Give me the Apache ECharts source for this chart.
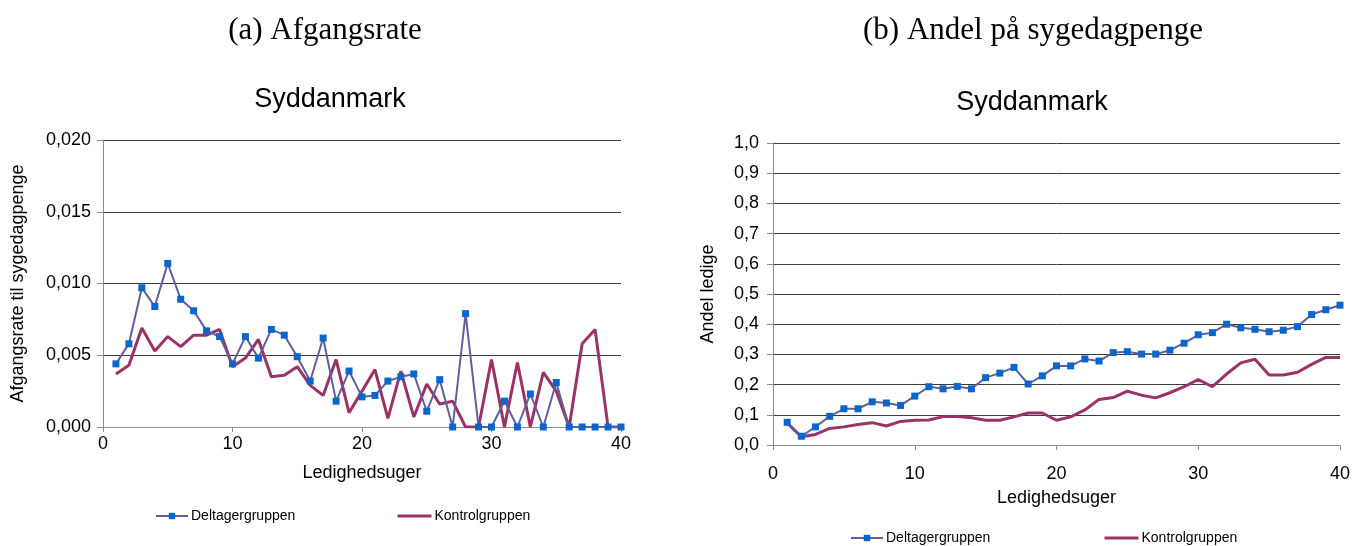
<!DOCTYPE html>
<html>
<head>
<meta charset="utf-8">
<script src="https://cdn.jsdelivr.net/npm/echarts@6/dist/echarts.min.js"></script>
<style>
html,body{margin:0;padding:0;background:#fff;}
#c{width:1364px;height:546px;}
</style>
</head>
<body>
<div id="c"></div>
<script>
// ---- data ----
const weeks = [1,2,3,4,5,6,7,8,9,10,11,12,13,14,15,16,17,18,19,20,21,22,23,24,25,26,27,28,29,30,31,32,33,34,35,36,37,38,39,40];
const seriesNames = ['Deltagergruppen', 'Kontrolgruppen'];
const headerA = '(a) Afgangsrate';
const headerB = '(b) Andel på sygedagpenge';
const regionTitle = 'Syddanmark';
const xName = 'Ledighedsuger';
const yNameA = 'Afgangsrate til sygedagpenge';
const yNameB = 'Andel ledige';

// (a) Afgangsrate
const rateDeltager = [0.0044,0.0058,0.0097,0.0084,0.0114,0.0089,0.0081,0.0067,0.0063,0.0044,0.0063,0.0048,0.0068,0.0064,0.0049,0.0032,0.0062,0.0018,0.0039,0.0021,0.0022,0.0032,0.0035,0.0037,0.0011,0.0033,0,0.0079,0,0,0.0018,0,0.0023,0,0.0031,0,0,0,0,0];
const rateKontrol  = [0.0037,0.0043,0.0069,0.0053,0.0063,0.0056,0.0064,0.0064,0.0068,0.0042,0.0048,0.0061,0.0035,0.0036,0.0042,0.0029,0.0022,0.0047,0.0010,0.0025,0.0040,0.0006,0.0039,0.0007,0.0030,0.0016,0.0018,0,0,0.0047,0,0.0045,0,0.0038,0.0025,0,0.0058,0.0068,0,0];

// (b) Andel på sygedagpenge
const shareDeltager = [0.075,0.029,0.060,0.095,0.120,0.120,0.143,0.139,0.131,0.162,0.193,0.186,0.194,0.186,0.223,0.238,0.257,0.202,0.229,0.262,0.262,0.285,0.278,0.306,0.309,0.301,0.301,0.314,0.337,0.365,0.372,0.400,0.388,0.383,0.375,0.380,0.392,0.432,0.448,0.463];
const shareKontrol  = [0.073,0.027,0.035,0.055,0.060,0.068,0.074,0.063,0.078,0.082,0.083,0.094,0.094,0.090,0.082,0.082,0.093,0.106,0.106,0.082,0.093,0.116,0.151,0.157,0.178,0.165,0.156,0.173,0.193,0.217,0.193,0.235,0.272,0.284,0.232,0.232,0.241,0.267,0.290,0.290];

// ---- chart ----
const SANS = "'Liberation Sans', Arial, sans-serif";
const SERIF = "'Liberation Serif', 'Times New Roman', serif";
const pair = (xs, ys) => xs.map((x, i) => [x, ys[i]]);
const blueLine = '#5F5F9C', blueMark = '#0A66CC', red = '#993366';
const gridColor = '#3c3c3c';

function xAxisCfg(gridIndex, labelMargin, nameGap) {
  return {
    gridIndex, type: 'value', min: 0, max: 40, interval: 10,
    name: xName, nameLocation: 'middle', nameGap,
    nameTextStyle: {fontFamily: SANS, fontSize: 18, color: '#000'},
    axisLine: {show: true, onZero: false, lineStyle: {color: '#8c8c8c', width: 1}},
    axisTick: {show: true, length: 5, inside: false, lineStyle: {color: '#8c8c8c'}},
    axisLabel: {fontFamily: SANS, fontSize: 18, color: '#000', margin: labelMargin},
    splitLine: {show: false}
  };
}
function yAxisCfg(gridIndex, max, interval, nTicks, digits, name, nameGap, labelMargin) {
  const colors = ['rgba(0,0,0,0)'];
  for (let i = 1; i < nTicks; i++) colors.push(gridColor);
  return {
    gridIndex, type: 'value', min: 0, max, interval,
    name, nameLocation: 'middle', nameGap, nameRotate: 90,
    nameTextStyle: {fontFamily: SANS, fontSize: 18, color: '#000'},
    axisLine: {show: true, lineStyle: {color: '#8c8c8c', width: 1}},
    axisTick: {show: true, length: 6, inside: false, lineStyle: {color: '#8c8c8c'}},
    axisLabel: {fontFamily: SANS, fontSize: 18, color: '#000', margin: labelMargin,
      formatter: v => v.toFixed(digits).replace('.', ',')},
    splitLine: {show: true, lineStyle: {color: colors, width: 1}}
  };
}
function lineSeries(name, xi, data) {
  const isD = name === seriesNames[0];
  return {
    name, type: 'line', xAxisIndex: xi, yAxisIndex: xi, data,
    symbol: isD ? 'rect' : 'none', symbolSize: 7, showSymbol: isD,
    itemStyle: {color: isD ? blueMark : red},
    lineStyle: {color: isD ? blueLine : red, width: isD ? 2 : 3},
    emphasis: {disabled: true}, animation: false, z: isD ? 3 : 2
  };
}
function legendCfg(name, left, top, isKontrol) {
  const cfg = {
    data: [name], left, top, itemWidth: isKontrol ? 34 : 32, itemHeight: 8, itemGap: 0,
    textStyle: {fontFamily: SANS, fontSize: 14, color: '#000', padding: [0,0,0,-2]},
    selectedMode: false
  };
  if (isKontrol) {
    cfg.itemStyle = {opacity: 0};
    cfg.lineStyle = {width: 3, color: red};
  } else {
    cfg.lineStyle = {width: 2, color: blueLine};
  }
  return cfg;
}

const chart = echarts.init(document.getElementById('c'), null, {renderer: 'canvas'});
chart.setOption({
  backgroundColor: '#fff',
  animation: false,
  title: [
    {text: headerA, left: 320, top: 10, textAlign: 'center', textStyle: {fontFamily: SERIF, fontSize: 31, fontWeight: 'normal', color: '#000'}},
    {text: headerB, left: 1028, top: 10, textAlign: 'center', textStyle: {fontFamily: SERIF, fontSize: 31, fontWeight: 'normal', color: '#000'}},
    {text: regionTitle, left: 325, top: 81, textAlign: 'center', textStyle: {fontFamily: SANS, fontSize: 27, fontWeight: 'normal', color: '#000'}},
    {text: regionTitle, left: 1027, top: 84, textAlign: 'center', textStyle: {fontFamily: SANS, fontSize: 27, fontWeight: 'normal', color: '#000'}}
  ],
  legend: [
    legendCfg(seriesNames[0], 150, 504, false),
    legendCfg(seriesNames[1], 391, 504, true),
    legendCfg(seriesNames[0], 845, 526, false),
    legendCfg(seriesNames[1], 1098, 526, true)
  ],
  grid: [
    {left: 103, top: 140, width: 518, height: 287, containLabel: false},
    {left: 773, top: 143, width: 567, height: 302, containLabel: false}
  ],
  xAxis: [xAxisCfg(0, 8, 37), xAxisCfg(1, 20, 44)],
  yAxis: [
    yAxisCfg(0, 0.020, 0.005, 5, 3, yNameA, 76, 12),
    yAxisCfg(1, 1.0, 0.1, 11, 1, yNameB, 56, 14)
  ],
  series: [
    lineSeries(seriesNames[0], 0, pair(weeks, rateDeltager)),
    lineSeries(seriesNames[1], 0, pair(weeks, rateKontrol)),
    lineSeries(seriesNames[0], 1, pair(weeks, shareDeltager)),
    lineSeries(seriesNames[1], 1, pair(weeks, shareKontrol))
  ]
});
</script>
</body>
</html>
